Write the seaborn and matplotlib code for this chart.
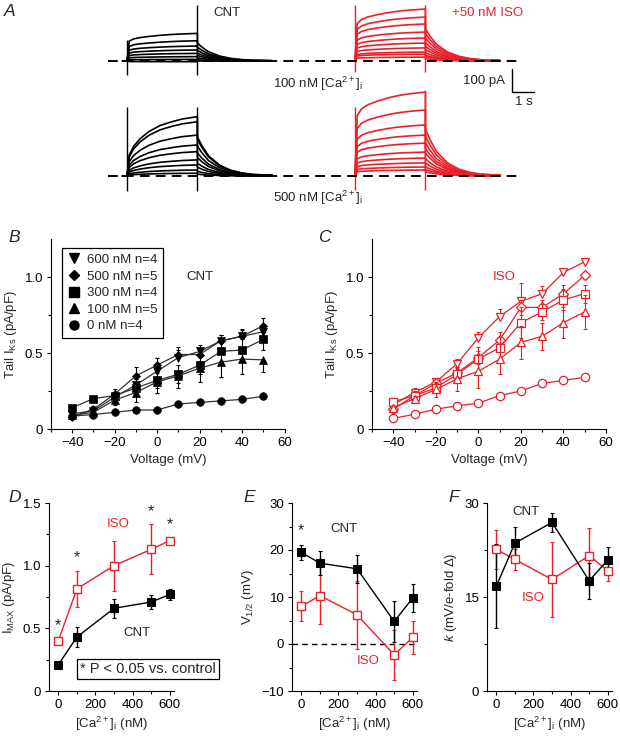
"""IKs traces and tail-current analysis, CNT vs +50 nM ISO at several [Ca2+]i."""

import matplotlib
matplotlib.use("Agg")
import matplotlib.pyplot as plt
from matplotlib.lines import Line2D
from matplotlib.ticker import FixedLocator, MultipleLocator
from matplotlib.transforms import offset_copy
import numpy as np
import pandas as pd
import seaborn as sns

W, H = 620, 737
RED = "#e8202a"

# ---- panel A: traces (pA, s) ----
STEP_T = [0, 0.1, 0.3, 0.6, 1.0, 1.5, 2.0, 2.5, 3.2]
SHAPE_FAST = [0, 0.72, 0.80, 0.85, 0.89, 0.93, 0.96, 0.98, 1.0]
SHAPE_SLOW = [0, 0.35, 0.50, 0.63, 0.75, 0.85, 0.91, 0.96, 1.0]
TAIL_T = [0, 0.2, 0.5, 1.0, 1.5, 2.0, 2.5, 3.4]
TAIL_SHAPE = [1.0, 0.78, 0.52, 0.28, 0.15, 0.08, 0.04, 0.02]

CNT100_STEP = [120, 88, 65, 48, 33, 19, 7, -3]
CNT100_TAIL = [78, 60, 46, 34, 24, 14, 5, 0]
CNT500_STEP = [258, 236, 178, 135, 106, 70, 48, 26, 12]
CNT500_TAIL = [170, 160, 130, 100, 80, 55, 38, 20, 8]
ISO100_STEP = [226, 191, 161, 126, 100, 78, 57, 39, 30, 17]
ISO100_TAIL = [140, 120, 100, 80, 64, 50, 36, 25, 19, 10]
ISO500_STEP = [365, 287, 222, 178, 143, 104, 78, 57, 39, 26]
ISO500_TAIL = [205, 175, 145, 120, 100, 75, 56, 40, 28, 18]
# capacitive spikes (top, bottom) at step onset and step end
CNT100_SPIKES = [(91, -61), (243, -61)]
CNT500_SPIKES = [(300, -65), (300, -65)]
ISO100_SPIKES = [(243, -48), (243, -48)]
ISO500_SPIKES = [(300, -61), (374, -61)]

# ---- panels B, C: tail IKs (pA/pF) vs voltage ----
VOLT = [-40, -30, -20, -10, 0, 10, 20, 30, 40, 50]
LEGEND = ["600 nM n=4", "500 nM n=5", "300 nM n=4", "100 nM n=5", "0 nM n=4"]
MARKERS = ["v", "D", "s", "^", "o"]

B_I600 = [0.10, 0.12, 0.21, 0.29, 0.38, 0.47, 0.51, 0.58, 0.61, 0.64]
B_I500 = [0.08, 0.13, 0.23, 0.35, 0.42, 0.49, 0.49, 0.58, 0.61, 0.68]
B_I300 = [0.14, 0.20, 0.22, 0.27, 0.32, 0.36, 0.42, 0.51, 0.52, 0.59]
B_I100 = [0.09, 0.11, 0.19, 0.24, 0.31, 0.35, 0.40, 0.44, 0.46, 0.455]
B_I0 = [0.085, 0.095, 0.11, 0.125, 0.125, 0.165, 0.175, 0.185, 0.195, 0.215]
B_E600 = [0.02, 0.02, 0.03, 0.04, 0.05, 0.05, 0.04, 0.04, 0.04, 0.04]
B_E500 = [0.02, 0.02, 0.03, 0.06, 0.05, 0.05, 0.04, 0.04, 0.05, 0.05]
B_E300 = [0.02, 0.02, 0.02, 0.04, 0.05, 0.06, 0.06, 0.06, 0.07, 0.07]
B_E100 = [0.02, 0.02, 0.03, 0.06, 0.07, 0.08, 0.09, 0.10, 0.10, 0.08]
B_E0 = [0.01, 0.01, 0.01, 0.01, 0.01, 0.01, 0.01, 0.01, 0.01, 0.01]

C_I600 = [0.16, 0.24, 0.31, 0.43, 0.60, 0.74, 0.84, 0.89, 1.03, 1.10]
C_I500 = [0.13, 0.22, 0.30, 0.37, 0.47, 0.585, 0.80, 0.80, 0.89, 1.01]
C_I300 = [0.18, 0.22, 0.27, 0.36, 0.46, 0.535, 0.70, 0.77, 0.85, 0.89]
C_I100 = [0.14, 0.20, 0.26, 0.33, 0.38, 0.46, 0.57, 0.61, 0.70, 0.77]
C_I0 = [0.07, 0.097, 0.13, 0.153, 0.17, 0.22, 0.25, 0.30, 0.32, 0.34]
C_E600 = [0.02, 0.03, 0.02, 0.03, 0.04, 0.05, 0.12, 0.05, 0.03, 0.01]
C_E500 = [0.02, 0.03, 0.02, 0.03, 0.04, 0.05, 0.05, 0.05, 0.06, 0.02]
C_E300 = [0.02, 0.02, 0.03, 0.05, 0.08, 0.07, 0.10, 0.05, 0.07, 0.06]
C_E100 = [0.02, 0.02, 0.05, 0.08, 0.11, 0.10, 0.11, 0.09, 0.10, 0.11]
C_E0 = [0.02, 0.02, 0.02, 0.02, 0.02, 0.01, 0.01, 0.01, 0.02, 0.02]

# ---- panels D, E, F: fit parameters vs [Ca2+]i ----
CA = [0, 100, 300, 500, 600]
IMAX_CNT = [0.21, 0.43, 0.66, 0.71, 0.77]
IMAX_CNT_E = [0.01, 0.08, 0.075, 0.055, 0.045]
IMAX_ISO = [0.40, 0.815, 1.00, 1.13, 1.20]
IMAX_ISO_E = [0.015, 0.145, 0.20, 0.20, 0.02]
V12_CNT = [19.5, 17.2, 16.0, 4.8, 9.8]
V12_CNT_E = [1.6, 2.6, 3.0, 4.3, 3.0]
V12_ISO = [8.0, 10.3, 6.2, -2.3, 1.4]
V12_ISO_E = [3.2, 6.1, 7.3, 5.3, 3.5]
K_CNT = [16.7, 23.6, 26.9, 17.6, 20.9]
K_CNT_E = [6.7, 2.5, 1.5, 2.9, 2.0]
K_ISO = [22.6, 21.0, 17.8, 21.6, 19.2]
K_ISO_E = [3.1, 1.7, 6.0, 4.4, 1.6]
D_STARS = [0, 100, 500, 600]
E_STARS = [0]

FS = 9.5

sns.set_theme(style="ticks")
plt.rcParams["font.family"] = ["Liberation Sans", "DejaVu Sans"]
plt.rcParams.update({
    "mathtext.fontset": "custom",
    "mathtext.rm": "Liberation Sans",
    "mathtext.it": "Liberation Sans:italic",
    "mathtext.bf": "Liberation Sans:bold",
    "font.size": FS,
    "axes.labelsize": FS,
    "xtick.labelsize": FS,
    "ytick.labelsize": FS,
    "axes.linewidth": 0.8,
    "axes.edgecolor": "black",
    "xtick.color": "black",
    "ytick.color": "black",
    "xtick.major.size": 3,
    "ytick.major.size": 3,
    "xtick.minor.size": 2.5,
    "ytick.minor.size": 2.5,
    "xtick.major.width": 0.8,
    "ytick.major.width": 0.8,
    "xtick.minor.width": 0.8,
    "ytick.minor.width": 0.8,
    "xtick.major.pad": 2.5,
    "ytick.major.pad": 2.5,
})


def box(left, top, right, bottom):
    return [left / W, 1 - bottom / H, (right - left) / W, (bottom - top) / H]


def fxy(x, y):
    return x / W, 1 - y / H


def yerr(err, mode):
    e = np.asarray(err)
    lo = e if mode in ("both", "down") else np.zeros_like(e)
    hi = e if mode in ("both", "up") else np.zeros_like(e)
    return [lo, hi]


fig = plt.figure(figsize=(W / 100, H / 100), dpi=100)

# ---------------- A ----------------
ax_a = fig.add_axes([0, 1 - 205 / H, 1, 205 / H])
ax_a.set_xlim(0, W / 22)
ax_a.set_ylim((61 - 205) / 0.23, 61 / 0.23)
ax_a.axis("off")

T0_CNT, T0_ISO = 127 / 22, 355 / 22
BASE_TOP, BASE_BOT = 0, -500
groups = [
    (CNT100_STEP, CNT100_TAIL, SHAPE_FAST, T0_CNT, BASE_TOP, "black", CNT100_SPIKES),
    (CNT500_STEP, CNT500_TAIL, SHAPE_SLOW, T0_CNT, BASE_BOT, "black", CNT500_SPIKES),
    (ISO100_STEP, ISO100_TAIL, SHAPE_FAST, T0_ISO, BASE_TOP, RED, ISO100_SPIKES),
    (ISO500_STEP, ISO500_TAIL, SHAPE_FAST, T0_ISO, BASE_BOT, RED, ISO500_SPIKES),
]
for steps, tails, shape, t0, base, col, spikes in groups:
    t = np.array([-0.2, 0] + STEP_T + [STEP_T[-1] + x for x in TAIL_T]) + t0
    for a, b in zip(steps, tails):
        y = [0, 0] + [a * s for s in shape] + [b * s for s in TAIL_SHAPE]
        ax_a.plot(t, np.array(y) + base, color=col, lw=1.2)
    for (top, bot), ts in zip(spikes, [t0, t0 + STEP_T[-1]]):
        ax_a.vlines(ts, base + bot, base + top, color=col, lw=1.0)

for base in (BASE_TOP, BASE_BOT):
    ax_a.hlines(base, 108 / 22, 522 / 22, colors="black", lw=1.4,
                linestyles=(0, (5, 3.2)), zorder=5)
# scale bar: 100 pA, 1 s
sb_t, sb_y = 512 / 22, (61 - 92) / 0.23
ax_a.plot([sb_t, sb_t, sb_t + 1], [sb_y + 100, sb_y, sb_y], color="black", lw=1.0)

fig.text(*fxy(4, 12), "A", fontsize=12.5, style="italic", va="center")
fig.text(*fxy(213, 13), "CNT", va="center")
fig.text(*fxy(452, 13), "+50 nM ISO", color=RED, va="center")
fig.text(*fxy(273, 84), "100 nM [Ca$^{2+}$]$_{\\rm i}$", va="center")
fig.text(*fxy(273, 198), "500 nM [Ca$^{2+}$]$_{\\rm i}$", va="center")
fig.text(*fxy(505, 81), "100 pA", ha="right", va="center")
fig.text(*fxy(524, 102), "1 s", ha="center", va="center")


def style_iv(ax):
    sns.despine(ax=ax)
    ax.set_xlim(-50, 60)
    ax.set_ylim(0, 1.25)
    ax.xaxis.set_major_locator(FixedLocator([-40, -20, 0, 20, 40, 60]))
    ax.set_xticklabels(["\u221240", "\u221220", "0", "20", "40", "60"])
    ax.xaxis.set_minor_locator(MultipleLocator(10))
    ax.yaxis.set_major_locator(FixedLocator([0, 0.5, 1.0]))
    ax.set_yticklabels(["0", "0.5", "1.0"])
    ax.yaxis.set_minor_locator(FixedLocator([0.25, 0.75]))
    ax.set_xlabel("Voltage (mV)", labelpad=4)
    ax.set_ylabel("Tail I$_{\\rm Ks}$ (pA/pF)", labelpad=4)


# ---------------- B ----------------
ax_b = fig.add_axes(box(51, 239, 284.5, 429))
b_series = [(B_I600, B_E600, "up"), (B_I500, B_E500, "up"), (B_I300, B_E300, "both"),
            (B_I100, B_E100, "down"), (B_I0, B_E0, "both")]
for (vals, errs, mode), mk in zip(b_series, MARKERS):
    ax_b.errorbar(VOLT, vals, yerr=yerr(errs, mode), fmt="none", ecolor="black",
                  elinewidth=0.8, capsize=1.5, capthick=0.8)
    sns.lineplot(x=VOLT, y=vals, ax=ax_b, color="#333333", lw=0.9, marker=mk,
                 markersize=5.5 if mk != "D" else 4.5, markerfacecolor="black",
                 markeredgecolor="black", markeredgewidth=0.5, errorbar=None)
style_iv(ax_b)
handles = [Line2D([], [], marker=m, ls="none", color="black",
                  markersize=6.5 if m != "D" else 5.5) for m in MARKERS]
leg = ax_b.legend(handles, LEGEND, loc="upper left", bbox_to_anchor=(0.02, 0.985),
                  frameon=True, fancybox=False, framealpha=1, edgecolor="black",
                  handlelength=1.0, handletextpad=0.5, labelspacing=0.33,
                  borderpad=0.4, fontsize=FS)
leg.get_frame().set_linewidth(0.9)
ax_b.text(20, 1.0, "CNT", ha="center", va="center")
fig.text(*fxy(8, 237), "B", fontsize=12.5, style="italic", va="center")

# ---------------- C ----------------
ax_c = fig.add_axes(box(372, 239, 606, 429))
c_series = [(C_I600, C_E600, "up"), (C_I500, C_E500, "both"), (C_I300, C_E300, "both"),
            (C_I100, C_E100, "both"), (C_I0, C_E0, "both")]
for (vals, errs, mode), mk in zip(c_series, MARKERS):
    ax_c.errorbar(VOLT, vals, yerr=yerr(errs, mode), fmt="none", ecolor=RED,
                  elinewidth=0.8, capsize=1.5, capthick=0.8)
    sns.lineplot(x=VOLT, y=vals, ax=ax_c, color=RED, lw=0.9, marker=mk,
                 markersize=6 if mk != "D" else 5, markerfacecolor="white",
                 markeredgecolor=RED, markeredgewidth=0.9, errorbar=None)
style_iv(ax_c)
ax_c.text(12, 1.0, "ISO", color=RED, ha="center", va="center")
fig.text(*fxy(318, 237), "C", fontsize=12.5, style="italic", va="center")


def style_ca(ax):
    sns.despine(ax=ax)
    ax.set_xlim(-50, 620)
    ax.xaxis.set_major_locator(FixedLocator([0, 200, 400, 600]))
    ax.xaxis.set_minor_locator(FixedLocator([100, 300, 500]))
    ax.set_xlabel("[Ca$^{2+}$]$_{\\rm i}$ (nM)", labelpad=3)


def draw_pair(ax, cnt, cnt_e, iso, iso_e):
    ax.errorbar(CA, iso, yerr=iso_e, fmt="none", ecolor=RED, elinewidth=1.0,
                capsize=1.5, capthick=0.8)
    ax.errorbar(CA, cnt, yerr=cnt_e, fmt="none", ecolor="black", elinewidth=1.0,
                capsize=1.5, capthick=0.8)
    sns.lineplot(x=CA, y=iso, ax=ax, color=RED, lw=1.0, marker="s", markersize=6,
                 markerfacecolor="white", markeredgecolor=RED, markeredgewidth=1.0,
                 errorbar=None)
    sns.lineplot(x=CA, y=cnt, ax=ax, color="black", lw=1.0, marker="s", markersize=6,
                 markerfacecolor="black", markeredgecolor="black", errorbar=None)


def stars(ax, xs, means, errs, pad):
    tr = offset_copy(ax.transData, fig=fig, y=-5.5, units="points")
    for x in xs:
        i = CA.index(x)
        ax.text(x, means[i] + errs[i] + pad, "*", fontsize=11.5, ha="center",
                va="baseline", transform=tr)


# ---------------- D ----------------
ax_d = fig.add_axes(box(49, 503, 173.5, 691))
draw_pair(ax_d, IMAX_CNT, IMAX_CNT_E, IMAX_ISO, IMAX_ISO_E)
style_ca(ax_d)
ax_d.set_ylim(0, 1.5)
ax_d.yaxis.set_major_locator(FixedLocator([0, 0.5, 1.0, 1.5]))
ax_d.set_yticklabels(["0", "0.5", "1.0", "1.5"])
ax_d.yaxis.set_minor_locator(FixedLocator([0.25, 0.75, 1.25]))
ax_d.set_ylabel("I$_{\\rm MAX}$ (pA/pF)", labelpad=4)
stars(ax_d, D_STARS, IMAX_ISO, IMAX_ISO_E, 0.13)
ax_d.text(320, 1.33, "ISO", color=RED, ha="center", va="center")
ax_d.text(425, 0.46, "CNT", ha="center", va="center")
fig.text(*fxy(148, 669), "* P < 0.05 vs. control", ha="center", va="center",
         fontsize=10.5,
         bbox=dict(boxstyle="square,pad=0.22", fc="white", ec="black", lw=0.9))
fig.text(*fxy(8, 497), "D", fontsize=12.5, style="italic", va="center")

# ---------------- E ----------------
ax_e = fig.add_axes(box(292, 503, 416.5, 691))
ax_e.axhline(0, color="black", lw=1.0, ls=(0, (4, 3)), zorder=0)
draw_pair(ax_e, V12_CNT, V12_CNT_E, V12_ISO, V12_ISO_E)
style_ca(ax_e)
ax_e.set_ylim(-10, 30)
ax_e.yaxis.set_major_locator(FixedLocator([-10, 0, 10, 20, 30]))
ax_e.set_yticklabels(["\u221210", "0", "10", "20", "30"])
ax_e.yaxis.set_minor_locator(FixedLocator([-5, 5, 15, 25]))
ax_e.set_ylabel("V$_{1/2}$ (mV)", labelpad=4)
stars(ax_e, E_STARS, V12_CNT, V12_CNT_E, 3.7)
ax_e.text(230, 24.5, "CNT", ha="center", va="center")
ax_e.text(360, -3.7, "ISO", color=RED, ha="center", va="center")
fig.text(*fxy(243, 498), "E", fontsize=12.5, style="italic", va="center")

# ---------------- F ----------------
ax_f = fig.add_axes(box(487, 503, 611.5, 691))
draw_pair(ax_f, K_CNT, K_CNT_E, K_ISO, K_ISO_E)
style_ca(ax_f)
ax_f.set_ylim(0, 30)
ax_f.yaxis.set_major_locator(FixedLocator([0, 15, 30]))
ax_f.set_yticklabels(["0", "15", "30"])
ax_f.yaxis.set_minor_locator(FixedLocator([7.5, 22.5]))
ax_f.set_ylabel("$k$ (mV/e-fold \u0394)", labelpad=4)
ax_f.text(160, 28.5, "CNT", ha="center", va="center")
ax_f.text(200, 14.8, "ISO", color=RED, ha="center", va="center")
fig.text(*fxy(448, 498), "F", fontsize=12.5, style="italic", va="center")

fig.savefig("out.png", dpi=100)
